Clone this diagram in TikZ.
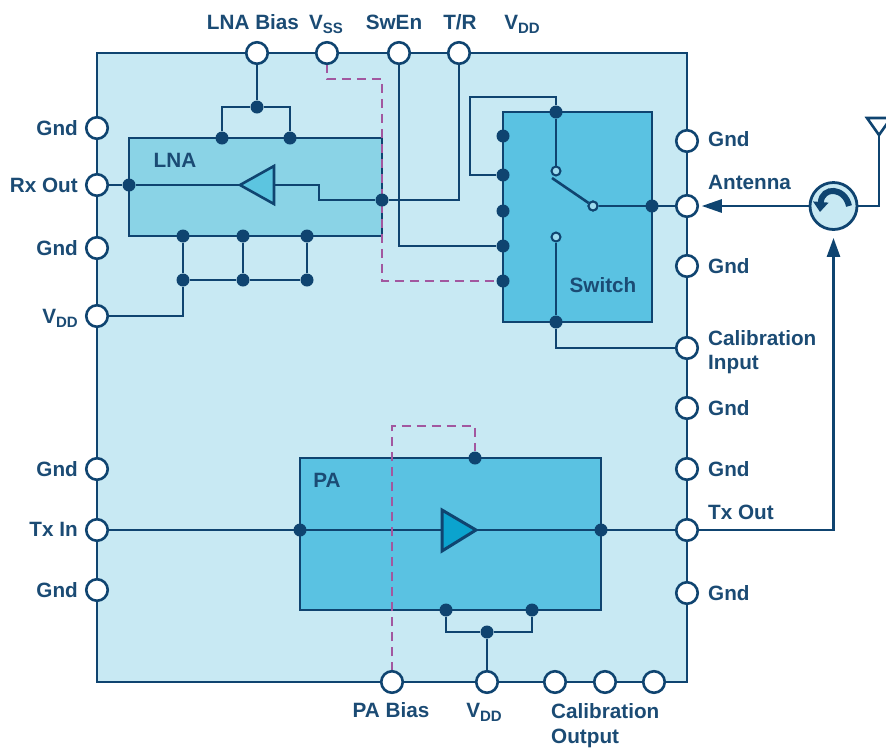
\documentclass[tikz,border=0pt]{standalone}
\usepackage{fontspec}
\setmainfont{Liberation Sans}
\usetikzlibrary{arrows.meta,calc}
\definecolor{navy}{HTML}{0F4470}
\definecolor{chip}{HTML}{C8E9F3}
\definecolor{lnafill}{HTML}{8AD3E6}
\definecolor{blockfill}{HTML}{5AC2E2}
\definecolor{ctl}{HTML}{A2579F}
\definecolor{lnatri}{HTML}{5CC5E0}
\definecolor{patri}{HTML}{0BA3CE}
\definecolor{txt}{HTML}{1B4B74}
\pgfdeclarelayer{boxes}
\pgfdeclarelayer{wires}
\pgfsetlayers{boxes,wires,main}
\newcommand{\subV}[1]{V\raisebox{-4.5pt}{\fontsize{15}{15}\selectfont #1}}
\tikzset{
  wire/.style={draw=navy,line width=2.6pt},
  ctlwire/.style={draw=ctl,line width=2.1pt,dash pattern=on 9pt off 6pt},
  pin/.style={circle,draw=navy,line width=2.6pt,fill=white,inner sep=0pt,outer sep=0pt,minimum size=21.5pt},
  dot/.style={circle,fill=navy,inner sep=0pt,minimum size=13pt},
  contact/.style={circle,draw=navy,line width=2pt,fill=blockfill!60!white,inner sep=0pt,minimum size=9pt},
  lbl/.style={font=\fontsize{20.7}{22}\selectfont\bfseries,text=txt,inner sep=0pt,text height=14.7pt,text depth=0pt},
  rlbl/.style={lbl,anchor=west},
  llbl/.style={lbl,anchor=east},
  blockbox/.style={draw=navy,line width=2.8pt,inner sep=0pt,outer sep=0pt,anchor=north west},
}
\begin{document}
\begin{tikzpicture}[x=1pt,y=-1pt]
\useasboundingbox (0,0) rectangle (886,748);
% boxes
\begin{pgfonlayer}{boxes}
\node[blockbox,fill=chip,minimum width=590pt,minimum height=629pt] (chipbox) at (97,53) {};
\node[blockbox,fill=lnafill,minimum width=253pt,minimum height=98pt] (lna) at (129,138) {};
\node[blockbox,fill=blockfill,minimum width=149pt,minimum height=210pt] (sw) at (503,112) {};
\node[blockbox,fill=blockfill,minimum width=301pt,minimum height=152pt] (pa) at (300,458) {};
\end{pgfonlayer}
% pins
\foreach \n/\x in {lnabias/257,vss/327,swen/399,tr/459}
  \node[pin] (\n) at (\x,53) {};
\foreach \n/\y in {lg1/128,rxout/185,lg2/248,lvdd/316,lg3/469,txin/530,lg4/590}
  \node[pin] (\n) at (97,\y) {};
\foreach \n/\y in {rg1/141,ant/206,rg2/266,calin/348,rg3/408,rg4/469,txout/530,rg5/593}
  \node[pin] (\n) at (687,\y) {};
\foreach \n/\x in {pabias/392,bvdd/487,co1/555,co2/605,co3/654}
  \node[pin] (\n) at (\x,682) {};
% dots
\foreach \n/\x/\y in {a1/257/107,a2/222/138,a3/290/138,a4/129/185,a5/382/200,
  b1/183/236,b2/243/236,b3/307/236,b4/183/280,b5/243/280,b6/307/280,
  s1/556/112,s2/503/136,s3/503/175,s4/503/211,s5/503/246,s6/503/281,s7/652/206,s8/556/322,
  p1/475/458,p2/300/530,p3/601/530,p4/446/610,p5/532/610,p6/487/632}
  \node[dot] (\n) at (\x,\y) {};
% switch contacts
\node[contact] (c1) at (556,171) {};
\node[contact] (c2) at (593,206) {};
\node[contact] (c3) at (556,237) {};
% amplifier reference points
\coordinate (lnatip) at (240,185);
\coordinate (lnabase) at (274,185);
\coordinate (patip) at (476,530);
\coordinate (pabase) at (442,530);
% control-line corners
\coordinate (vsscorner) at (382,79);
\coordinate (pacorner) at (475,426);
% circulator and antenna
\node[circle,draw=navy,line width=2.8pt,fill=chip,inner sep=0pt,minimum size=47pt] (circ) at (833.5,206) {};
\draw[navy,line width=6pt,-{Triangle[length=10pt,width=15pt]}] (849,206) .. controls (845,187) and (822,186) .. (820,212);
\coordinate (antfoot) at (879,135);
\draw[navy,line width=2.6pt,fill=white] (antfoot) -- (867,118) -- (891,118) -- cycle;
% wires
\begin{pgfonlayer}{wires}
\draw[wire] (lnabias) -- (a1);
\draw[wire] (a2) |- (a1) -| (a3);
\draw[wire] (rxout) -- (a4) -- (lnatip);
\draw[wire] (lnabase) -- ++(45,0) |- (a5) -- ++(77,0) -| (tr);
\draw[wire] (b1) -- (b4) -- (b5) -- (b6) -- (b3);
\draw[wire] (b2) -- (b5);
\draw[wire] (lvdd) -| (b4);
\draw[wire] (s1) -- ++(0,-15) -| (470,175) -- (s3);
\draw[wire] (swen) |- (s5);
\draw[wire] (s1) -- (c1);
\draw[wire] (c2) -- (ant);
\draw[wire] (c3) -- (s8);
\draw[wire] (s8) |- (calin);
\draw[wire] (txin) -- (pabase);
\draw[wire] (patip) -- (txout);
\draw[wire] (p4) |- (p6) -| (p5);
\draw[wire] (p6) -- (bvdd);
\draw[wire,-{Triangle[length=20pt,width=13pt]},shorten >=4pt] (circ) -- (ant);
\draw[wire,-{Triangle[length=19pt,width=13pt]},shorten >=7pt] (txout) -| (circ);
\draw[wire] (circ) -| (antfoot);
\draw[ctlwire] (vss) |- (vsscorner) |- (s6);
\draw[ctlwire] (pabias) |- (pacorner) -- (p1);
\end{pgfonlayer}
% switch arm, amplifiers
\draw[navy,line width=2.6pt] (552,178) -- (c2);
\node[contact] at (c2) {};
\draw[navy,line width=2.6pt,fill=lnatri,line join=miter] (lnatip) -- (274,166) -- (274,204) -- cycle;
\draw[navy,line width=3pt,fill=patri,line join=miter] (patip) -- (442,510) -- (442,551) -- cycle;
% labels
\node[lbl] (tLNAB) at (253,22) {LNA Bias};
\node[lbl] (tVSS) at (326,22) {\subV{SS}};
\node[lbl] (tSW) at (394,22) {SwEn};
\node[lbl] (tTR) at (460,22) {T/R};
\node[lbl] (tVDDt) at (522,22) {\subV{DD}};
\node[llbl] (tG1) at (78,128) {Gnd};
\node[llbl] (tRx) at (78,185) {Rx Out};
\node[llbl] (tG2) at (78,248) {Gnd};
\node[llbl] (tVl) at (78,316) {\subV{DD}};
\node[llbl] (tG3) at (78,469) {Gnd};
\node[llbl] (tTx) at (78,529) {Tx In};
\node[llbl] (tG4) at (78,590) {Gnd};
\node[rlbl] (tG5) at (708,139) {Gnd};
\node[rlbl] (tAnt) at (708,182) {Antenna};
\node[rlbl] (tG6) at (708,266) {Gnd};
\node[rlbl] (tCalI) at (708,338) {Calibration};
\node[rlbl] (tCalI2) at (708,362) {Input};
\node[rlbl] (tG7) at (708,408) {Gnd};
\node[rlbl] (tG8) at (708,469) {Gnd};
\node[rlbl] (tTxO) at (708,512) {Tx Out};
\node[rlbl] (tG9) at (708,593) {Gnd};
\node[lbl] (tPAB) at (391,710) {PA Bias};
\node[lbl] (tVb) at (484,710) {\subV{DD}};
\node[rlbl] (tCalO) at (551,711) {Calibration};
\node[rlbl] (tCalO2) at (551,736) {Output};
\node[lbl] (tLNA) at (175,160) {LNA};
\node[lbl] (tPA) at (327,480) {PA};
\node[lbl] (tSwitch) at (603,285) {Switch};
\end{tikzpicture}
\end{document}
